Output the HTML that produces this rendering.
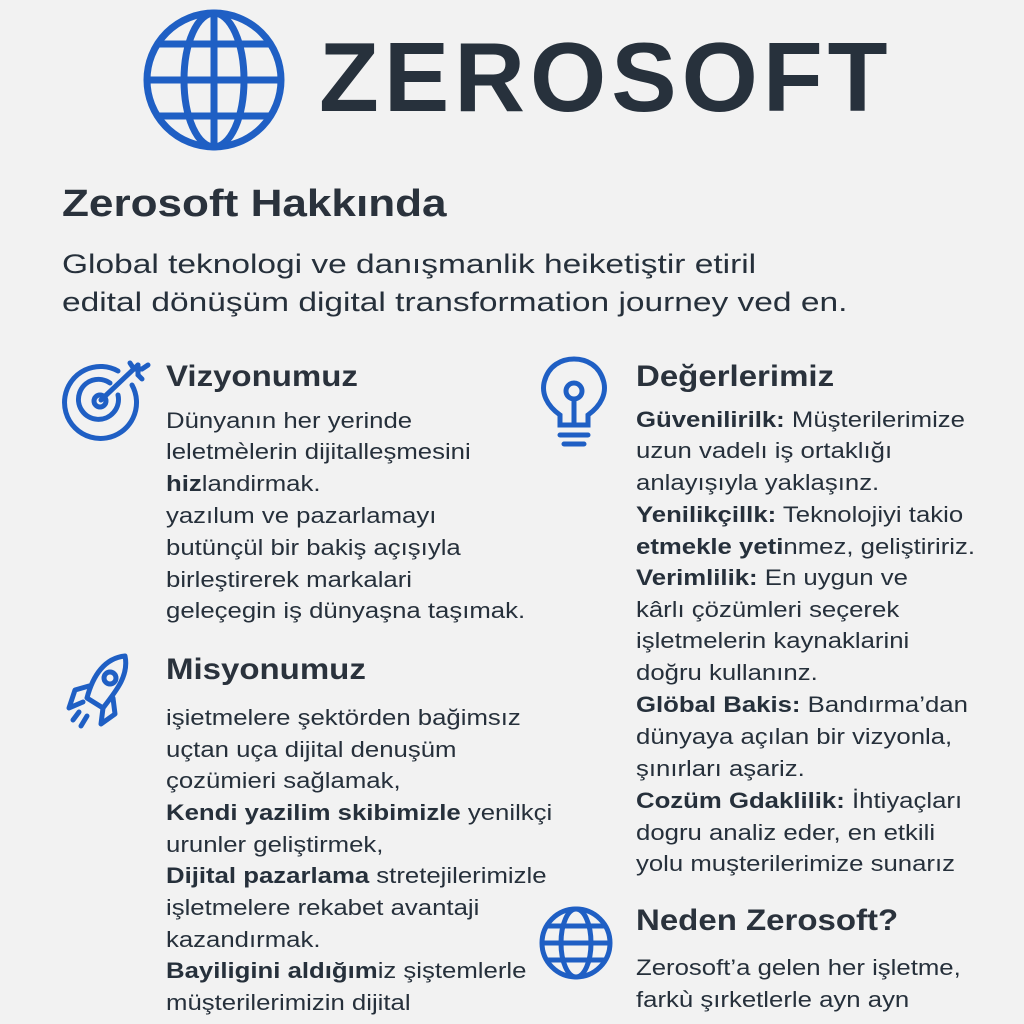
<!DOCTYPE html>
<html><head><meta charset="utf-8"><style>
body{margin:0;width:1024px;height:1024px;background:#f2f2f2;overflow:hidden;position:relative;font-family:"Liberation Sans","DejaVu Sans",sans-serif;color:#26303b}
.l{position:absolute;white-space:nowrap;font-size:22px;line-height:26px;transform:scaleX(1.17);transform-origin:0 0}
.h{position:absolute;white-space:nowrap;font-size:30px;font-weight:bold;color:#2a323c;transform:scaleX(1.1);transform-origin:0 0}
b{font-weight:bold}
svg{position:absolute}
</style></head><body>
<svg style="left:140px;top:8px" width="150" height="150" viewBox="0 0 150 150" fill="none" stroke="#1f5fc4" stroke-width="7">
<circle cx="74" cy="72" r="67"/><ellipse cx="74" cy="72" rx="30" ry="67"/><line x1="74" y1="5" x2="74" y2="139"/><line x1="7" y1="72" x2="141" y2="72"/><path d="M18 36 H130 M18 108 H130"/></svg>
<div style="position:absolute;left:319px;top:22px;font-size:98px;font-weight:bold;color:#27313c;letter-spacing:5px;line-height:110px">ZEROSOFT</div>
<div style="position:absolute;left:62px;top:183px;font-size:38px;font-weight:bold;color:#2a323c;transform:scaleX(1.16);transform-origin:0 0">Zerosoft Hakkında</div>
<div class="l" style="left:62px;top:248px;font-size:27px;line-height:32px;transform:scaleX(1.24)">Global teknologi ve danışmanlik heiketiştir etiril</div>
<div class="l" style="left:62px;top:286px;font-size:27px;line-height:32px;transform:scaleX(1.24)">edital dönüşüm digital transformation journey ved en.</div>

<svg style="left:58px;top:355px" width="95" height="95" viewBox="0 0 95 95" fill="none" stroke="#1f5fc4" stroke-width="5" stroke-linecap="round">
<path d="M74 30 A36 36 0 1 1 60 16"/><path d="M60 40 A20 20 0 1 1 52 28"/><circle cx="42" cy="46" r="6"/><line x1="43" y1="45" x2="80" y2="10"/><path d="M72 8 L76 14 L84 14 L90 10 M80 10 L80 20 L84 24"/></svg>
<div class="h" style="left:166px;top:360px">Vizyonumuz</div>
<div class="l" style="left:166px;top:408px">Dünyanın her yerinde</div>
<div class="l" style="left:166px;top:439px">leletmèlerin dijitalleşmesini</div>
<div class="l" style="left:166px;top:471px"><b>hiz</b>landirmak.</div>
<div class="l" style="left:166px;top:503px">yazılum ve pazarlamayı</div>
<div class="l" style="left:166px;top:535px">butünçül bir bakiş açışıyla</div>
<div class="l" style="left:166px;top:567px">birleştirerek markalari</div>
<div class="l" style="left:166px;top:598px">geleçegin iş dünyaşna taşımak.</div>

<svg style="left:65px;top:650px" width="70" height="85" viewBox="0 0 70 85" fill="none" stroke="#1f5fc4" stroke-width="5" stroke-linejoin="round" stroke-linecap="round">
<path d="M60 6 C40 8 28 25 22 48 L38 58 C52 40 64 25 60 6Z"/><circle cx="45" cy="28" r="6"/><path d="M24 36 L10 40 L4 58 L18 52"/><path d="M38 58 L36 74 L50 64 L48 48"/><path d="M14 62 L8 70 M22 66 L16 76"/></svg>
<div class="h" style="left:166px;top:653px">Misyonumuz</div>
<div class="l" style="left:166px;top:705px">işietmelere şektörden bağimsız</div>
<div class="l" style="left:166px;top:737px">uçtan uça dijital denuşüm</div>
<div class="l" style="left:166px;top:768px">çozümieri sağlamak,</div>
<div class="l" style="left:166px;top:800px"><b>Kendi yazilim skibimizle</b> yenilkçi</div>
<div class="l" style="left:166px;top:832px">urunler geliştirmek,</div>
<div class="l" style="left:166px;top:863px"><b>Dijital pazarlama</b> stretejilerimizle</div>
<div class="l" style="left:166px;top:895px">işletmelere rekabet avantaji</div>
<div class="l" style="left:166px;top:927px">kazandırmak.</div>
<div class="l" style="left:166px;top:958px"><b>Bayiligini</b> <b>aldığım</b>iz şiştemlerle</div>
<div class="l" style="left:166px;top:990px">müşterilerimizin dijital</div>

<svg style="left:538px;top:355px" width="72" height="95" viewBox="0 0 72 95" fill="none" stroke="#1f5fc4" stroke-width="5" stroke-linecap="round">
<path d="M22 70 L22 60 C8 50 4 38 6 28 C10 10 24 4 36 4 C48 4 62 10 66 28 C68 38 64 50 50 60 L50 70 Z"/><circle cx="36" cy="36" r="8"/><path d="M36 44 V70"/><path d="M22 80 H50 M26 89 H46"/></svg>
<div class="h" style="left:636px;top:360px">Değerlerimiz</div>
<div class="l" style="left:636px;top:407px"><b>Güvenilirilk:</b> Müşterilerimize</div>
<div class="l" style="left:636px;top:438px">uzun vadelı iş ortaklığı</div>
<div class="l" style="left:636px;top:470px">anlayışıyla yaklaşınz.</div>
<div class="l" style="left:636px;top:502px"><b>Yenilikçillk:</b> Teknolojiyi takio</div>
<div class="l" style="left:636px;top:534px"><b>etmekle yeti</b>nmez, geliştiririz.</div>
<div class="l" style="left:636px;top:565px"><b>Verimlilik:</b> En uygun ve</div>
<div class="l" style="left:636px;top:597px">kârlı çözümleri seçerek</div>
<div class="l" style="left:636px;top:628px">işletmelerin kaynaklarini</div>
<div class="l" style="left:636px;top:660px">doğru kullanınz.</div>
<div class="l" style="left:636px;top:692px"><b>Glöbal Bakis:</b> Bandırma’dan</div>
<div class="l" style="left:636px;top:724px">dünyaya açılan bir vizyonla,</div>
<div class="l" style="left:636px;top:756px">şınırları aşariz.</div>
<div class="l" style="left:636px;top:788px"><b>Cozüm Gdaklilik:</b> İhtiyaçları</div>
<div class="l" style="left:636px;top:820px">dogru analiz eder, en etkili</div>
<div class="l" style="left:636px;top:851px">yolu muşterilerimize sunarız</div>

<svg style="left:537px;top:904px" width="78" height="78" viewBox="0 0 78 78" fill="none" stroke="#1f5fc4" stroke-width="5">
<circle cx="39" cy="39" r="34"/><ellipse cx="39" cy="39" rx="15" ry="34"/><line x1="5" y1="39" x2="73" y2="39"/><path d="M11 22 H67 M11 56 H67"/></svg>
<div class="h" style="left:636px;top:904px">Neden Zerosoft?</div>
<div class="l" style="left:636px;top:955px">Zerosoft’a gelen her işletme,</div>
<div class="l" style="left:636px;top:987px">farkù şırketlerle ayn ayn</div>
</body></html>
